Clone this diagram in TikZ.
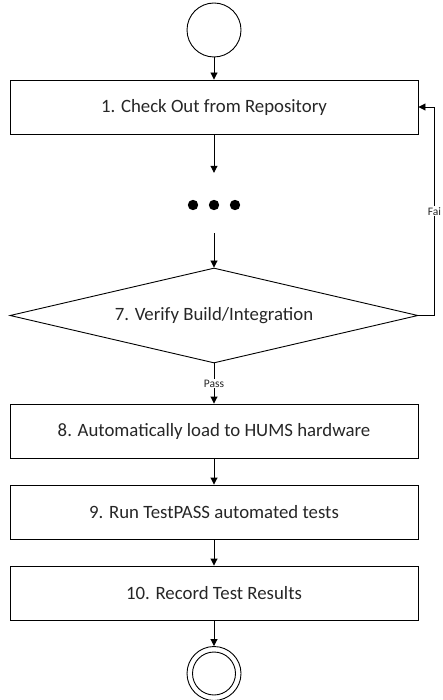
\documentclass[tikz,border=0pt]{standalone}
\usepackage{fontspec}
\setmainfont{Carlito}
\usetikzlibrary{shapes.geometric,arrows.meta}
\tikzset{
stepbox/.style = {draw, line width = 0.9pt, minimum width = 408pt, minimum height = 54pt, inner sep = 0pt, font = \fontsize{18.8}{22}\selectfont, text = black!85},
decision/.style = {diamond, draw, line width = 0.9pt, minimum width = 408pt, minimum height = 95pt, aspect = 4.3, inner sep = 0pt, font = \fontsize{18.8}{22}\selectfont, text = black!85},
terminal/.style = {circle, draw, line width = 0.9pt, minimum size = 54pt, inner sep = 0pt},
flow/.style = {line width = 0.9pt, -{Triangle[length = 7pt, width = 7pt]}},
edgelabel/.style = {fill = white, inner sep = 1pt, font = \fontsize{11.5}{13}\selectfont, text = black!85}
}
\begin{document}
\begin{tikzpicture}[x=1pt,y=-1pt]
\useasboundingbox (0,0) rectangle (443,700);
%
\def\xc{214}
\def\loopout{16}
%
\node[terminal] (start) at (\xc,30) {};
\node[stepbox] (checkout) at (\xc,107) {1. Check Out from Repository};
\node[minimum width = 60pt, minimum height = 60pt] (dots) at (\xc,203) {};
\node[decision] (verify) at (\xc,315.5) {7. Verify Build/Integration};
\node[stepbox] (load) at (\xc,431) {8. Automatically load to HUMS hardware};
\node[stepbox] (runtests) at (\xc,512) {9. Run TestPASS automated tests};
\node[stepbox] (record) at (\xc,593) {10. Record Test Results};
\node[terminal] (finish) at (\xc,673.5) {};
\draw[line width = 0.9pt] (finish.center) circle[radius = 21.5pt];
%
\foreach \dx in {-21,0,21}{\fill (\xc+\dx,205) circle[radius = 5.2pt];}
%
\draw[flow] (start) -- (checkout);
\draw[flow] (checkout) -- (dots);
\draw[flow] (dots) -- (verify);
\draw[flow] (verify) -- (load) node[midway, edgelabel]{Pass};
\draw[flow] (load) -- (runtests);
\draw[flow] (runtests) -- (record);
\draw[flow] (record) -- (finish);
%
\draw[flow] (verify.east) -- ++(\loopout,0) |- (checkout.east) node[pos = 0.25, edgelabel]{Fai};
%
\end{tikzpicture}
\end{document}
